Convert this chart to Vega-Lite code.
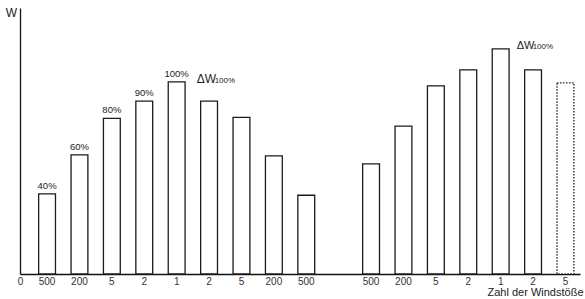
{
  "$schema": "https://vega.github.io/schema/vega-lite/v6.json",
  "width": 560,
  "height": 266,
  "autosize": "none",
  "padding": {"left": 20, "top": 8, "right": 5, "bottom": 25},
  "background": "white",
  "config": {"view": {"stroke": null}, "font": "Liberation Sans"},
  "data": {
    "values": [
      {"slot": "a500", "w": 41.7, "pct": "40%"},
      {"slot": "b200", "w": 62, "pct": "60%"},
      {"slot": "c5", "w": 81, "pct": "80%"},
      {"slot": "d2", "w": 90, "pct": "90%"},
      {"slot": "e1", "w": 100, "pct": "100%"},
      {"slot": "f2", "w": 90},
      {"slot": "g5", "w": 81.5},
      {"slot": "h200", "w": 61.5},
      {"slot": "i500", "w": 41},
      {"slot": "j500", "w": 57.3},
      {"slot": "k200", "w": 77},
      {"slot": "l5", "w": 98},
      {"slot": "m2", "w": 106.3},
      {"slot": "n1", "w": 117.2},
      {"slot": "o2", "w": 106.3},
      {"slot": "p5", "w": 99.5}
    ]
  },
  "encoding": {
    "x": {
      "field": "slot",
      "type": "nominal",
      "scale": {
        "domain": ["a500", "b200", "c5", "d2", "e1", "f2", "g5", "h200", "i500", "gap", "j500", "k200", "l5", "m2", "n1", "o2", "p5"],
        "paddingInner": 0.48,
        "paddingOuter": 0.382,
        "align": 0.753
      },
      "axis": {
        "title": "Zahl der Windstöße",
        "titleAnchor": "end",
        "titleAlign": "right",
        "titleX": 563,
        "titleFontWeight": "normal",
        "titleFontSize": 11,
        "titleColor": "#222",
        "titlePadding": 0,
        "labelExpr": "datum.value == 'gap' ? '' : slice(datum.value, 1)",
        "ticks": false,
        "tickSize": 0,
        "labelAngle": 0,
        "labelFontSize": 10,
        "labelColor": "#333",
        "labelPadding": 2,
        "domainColor": "#111",
        "domainWidth": 1.3
      }
    },
    "y": {
      "field": "w",
      "type": "quantitative",
      "scale": {"domain": [0, 138.5]},
      "axis": {
        "title": "W",
        "titleAngle": 0,
        "titleX": -9,
        "titleY": 4,
        "titleBaseline": "middle",
        "titleAlign": "center",
        "titleFontWeight": "normal",
        "titleFontSize": 12,
        "titleColor": "#222",
        "values": [0],
        "labelExpr": "'0'",
        "ticks": false,
        "tickSize": 0,
        "labelAlign": "center",
        "labelBaseline": "top",
        "labelPadding": 0,
        "labelOffset": 2,
        "labelFontSize": 10,
        "labelColor": "#333",
        "domainColor": "#111",
        "domainWidth": 1.3,
        "grid": false
      }
    }
  },
  "layer": [
    {
      "mark": {"type": "bar", "fill": "white", "stroke": "#1a1a1a", "strokeWidth": 1.3},
      "encoding": {
        "strokeDash": {"condition": {"test": "datum.slot === 'p5'", "value": [1.5, 1.5]}, "value": [1, 0]}
      }
    },
    {
      "transform": [{"filter": "datum.pct"}],
      "mark": {"type": "text", "baseline": "bottom", "dy": -3, "fontSize": 9.5, "color": "#222"},
      "encoding": {"text": {"field": "pct"}}
    },
    {
      "transform": [{"filter": "datum.slot === 'e1'"}],
      "mark": {"type": "text", "align": "left", "baseline": "alphabetic", "dx": 20, "dy": 1, "fontSize": 12, "color": "#222"},
      "encoding": {"text": {"value": "ΔW"}}
    },
    {
      "transform": [{"filter": "datum.slot === 'e1'"}],
      "mark": {"type": "text", "align": "left", "baseline": "alphabetic", "dx": 38, "dy": 1, "fontSize": 8, "color": "#222"},
      "encoding": {"text": {"value": "100%"}}
    },
    {
      "transform": [{"filter": "datum.slot === 'n1'"}],
      "mark": {"type": "text", "align": "left", "baseline": "alphabetic", "dx": 16, "dy": 0, "fontSize": 11, "color": "#222"},
      "encoding": {"text": {"value": "ΔW"}}
    },
    {
      "transform": [{"filter": "datum.slot === 'n1'"}],
      "mark": {"type": "text", "align": "left", "baseline": "alphabetic", "dx": 32, "dy": 0, "fontSize": 8, "color": "#222"},
      "encoding": {"text": {"value": "100%"}}
    }
  ]
}
